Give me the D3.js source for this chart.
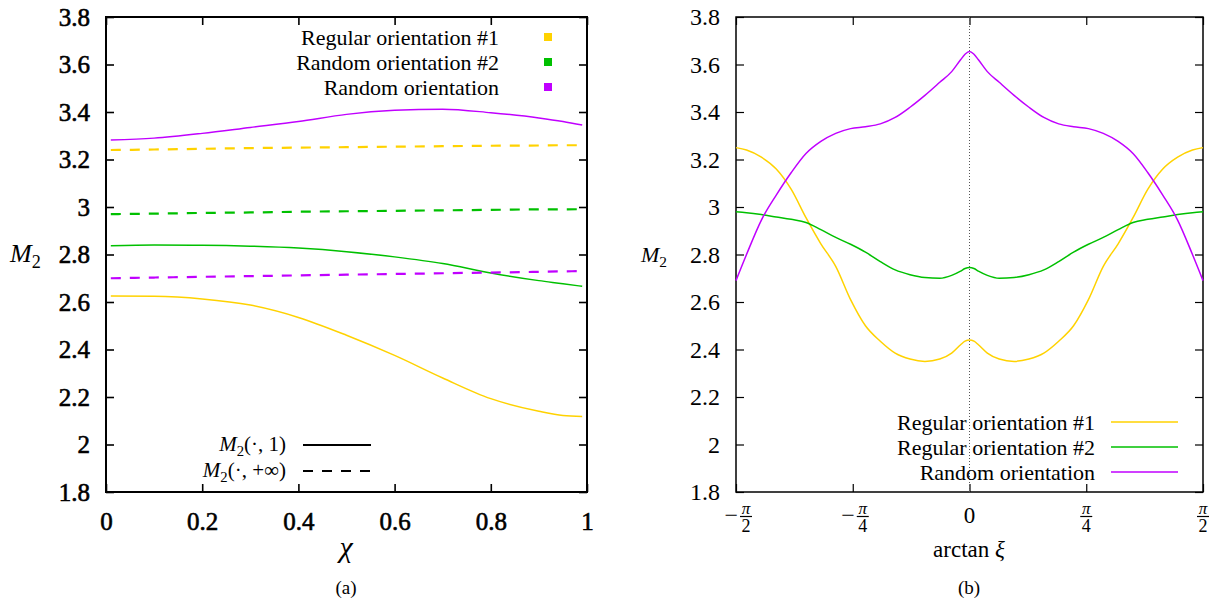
<!DOCTYPE html>
<html>
<head>
<meta charset="utf-8">
<script src="https://cdn.jsdelivr.net/npm/d3@7"></script>
<style>
  body { margin: 0; background: #fff; }
  svg text { font-family: "Times New Roman", Times, "Liberation Serif", "Noto Serif", "DejaVu Serif", serif !important; fill: #000; }
</style>
</head>
<body>
<svg width="1229" height="601"></svg>
<script>
// ---- data, panel (a): M2 vs chi
var chi = [0.01, 0.1, 0.2, 0.3, 0.4, 0.5, 0.6, 0.7, 0.8, 0.9, 0.95, 0.99];
var reg1One  = [2.625, 2.624, 2.613, 2.587, 2.535, 2.46, 2.375, 2.28, 2.193, 2.14, 2.122, 2.118];
var reg2One  = [2.837, 2.84, 2.839, 2.835, 2.827, 2.812, 2.79, 2.762, 2.722, 2.69, 2.677, 2.666];
var randOne  = [3.282, 3.29, 3.31, 3.335, 3.36, 3.39, 3.407, 3.412, 3.397, 3.375, 3.36, 3.345];
var reg1Inf  = [3.24, 3.242, 3.245, 3.248, 3.25, 3.252, 3.254, 3.256, 3.258, 3.259, 3.26, 3.26];
var reg2Inf  = [2.97, 2.972, 2.975, 2.977, 2.98, 2.982, 2.984, 2.986, 2.988, 2.99, 2.99, 2.991];
var randInf  = [2.70, 2.703, 2.706, 2.709, 2.712, 2.715, 2.718, 2.721, 2.724, 2.727, 2.729, 2.73];

// ---- data, panel (b): M2 vs arctan(xi)
var atanXi = [-1.571, -1.5, -1.4, -1.3, -1.2, -1.1, -1.0, -0.9, -0.8, -0.7, -0.6, -0.5, -0.4, -0.3, -0.2, -0.12, -0.06, -0.03, 0,
              0.03, 0.06, 0.12, 0.2, 0.3, 0.4, 0.5, 0.6, 0.7, 0.8, 0.9, 1.0, 1.1, 1.2, 1.3, 1.4, 1.5, 1.571];
var reg1B = [3.25, 3.24, 3.21, 3.16, 3.075, 2.955, 2.845, 2.75, 2.61, 2.50, 2.435, 2.385, 2.36, 2.35, 2.36, 2.385, 2.42, 2.435, 2.44,
             2.435, 2.42, 2.385, 2.36, 2.35, 2.36, 2.385, 2.435, 2.50, 2.61, 2.75, 2.845, 2.955, 3.075, 3.16, 3.21, 3.24, 3.25];
var reg2B = [2.98, 2.976, 2.968, 2.958, 2.948, 2.935, 2.905, 2.872, 2.843, 2.81, 2.77, 2.735, 2.715, 2.703, 2.70, 2.712, 2.73, 2.741, 2.745,
             2.741, 2.73, 2.712, 2.70, 2.703, 2.715, 2.735, 2.77, 2.81, 2.843, 2.872, 2.905, 2.935, 2.948, 2.958, 2.968, 2.976, 2.98];
var randB = [2.69, 2.80, 2.945, 3.05, 3.144, 3.225, 3.276, 3.31, 3.33, 3.338, 3.35, 3.377, 3.42, 3.47, 3.525, 3.57, 3.62, 3.643, 3.655,
             3.643, 3.62, 3.57, 3.525, 3.47, 3.42, 3.377, 3.35, 3.338, 3.33, 3.31, 3.276, 3.225, 3.144, 3.05, 2.945, 2.80, 2.69];

var yTicks = [1.8, 2, 2.2, 2.4, 2.6, 2.8, 3, 3.2, 3.4, 3.6, 3.8];
var chiTicks = [0, 0.2, 0.4, 0.6, 0.8, 1];
var piTicks = [-Math.PI / 2, -Math.PI / 4, 0, Math.PI / 4, Math.PI / 2];
var piTickParts = [["\u2212", "2"], ["\u2212", "4"], ["", ""], ["", "4"], ["", "2"]];

var yellow = "#ffd200", green = "#00c000", purple = "#c000ff";

var svg = d3.select("svg");

function subM(sel, size) {
    // italic M with subscript 2
    sel.append("tspan").attr("font-style", "italic").text("M");
    sel.append("tspan").attr("font-size", size * 0.7).attr("dy", size * 0.22).text("2");
}

// ================= panel (a)
var xa = d3.scaleLinear().domain([0, 1]).range([106, 587]);
var ya = d3.scaleLinear().domain([1.8, 3.8]).range([492, 17]);
var ga = svg.append("g");

ga.append("g").attr("transform", "translate(106,0)")
    .call(d3.axisLeft(ya).tickValues(yTicks).tickSize(-8).tickPadding(16).tickFormat(d3.format("")))
    .call(function (g) { g.select(".domain").remove(); });
ga.append("g").attr("transform", "translate(587,0)")
    .call(d3.axisRight(ya).tickValues(yTicks).tickSize(-8).tickFormat(""))
    .call(function (g) { g.select(".domain").remove(); });
ga.append("g").attr("transform", "translate(0,492)")
    .call(d3.axisBottom(xa).tickValues(chiTicks).tickSize(-8).tickPadding(20).tickFormat(d3.format("")))
    .call(function (g) { g.select(".domain").remove(); });
ga.append("g").attr("transform", "translate(0,17)")
    .call(d3.axisTop(xa).tickValues(chiTicks).tickSize(-8).tickFormat(""))
    .call(function (g) { g.select(".domain").remove(); });
ga.selectAll(".tick line").attr("stroke", "#000").attr("stroke-width", 1.6);
ga.selectAll(".tick text").attr("font-size", 25)
    .attr("stroke", "#000").attr("stroke-width", 0.6);
ga.append("rect").attr("x", 106).attr("y", 17).attr("width", 481).attr("height", 475)
    .attr("fill", "none").attr("stroke", "#000").attr("stroke-width", 2);

var lineA = function (vals) {
    return d3.line().curve(d3.curveMonotoneX)
        .x(function (d, i) { return xa(chi[i]); })
        .y(function (d) { return ya(d); })(vals);
};
var seriesA = [
    { v: reg1One, c: yellow, dash: null }, { v: reg2One, c: green, dash: null }, { v: randOne, c: purple, dash: null },
    { v: reg1Inf, c: yellow, dash: "10,9" }, { v: reg2Inf, c: green, dash: "10,9" }, { v: randInf, c: purple, dash: "10,9" }
];
ga.selectAll("path.curve").data(seriesA).enter().append("path")
    .attr("class", "curve")
    .attr("d", function (d) { return lineA(d.v); })
    .attr("fill", "none")
    .attr("stroke", function (d) { return d.c; })
    .attr("stroke-width", function (d) { return d.dash ? 2.2 : 1.5; })
    .attr("stroke-dasharray", function (d) { return d.dash; });

// legend (a), colours
var legA = ["Regular orientation #1", "Random orientation #2", "Random orientation"];
var legColors = [yellow, green, purple];
legA.forEach(function (t, i) {
    var y = 37 + i * 25;
    ga.append("text").attr("x", 499).attr("y", y).attr("dy", "0.35em")
        .attr("text-anchor", "end").attr("font-size", 22).text(t);
    ga.append("rect").attr("x", 544).attr("y", y - 4).attr("width", 8).attr("height", 8)
        .attr("fill", legColors[i]);
});
// legend (a), styles
var styleRows = [{ y: 445, dash: null, arg: "1" }, { y: 471, dash: "10,9", arg: "+\u221E" }];
styleRows.forEach(function (r) {
    var t = ga.append("text").attr("x", 286).attr("y", r.y).attr("dy", "0.3em")
        .attr("text-anchor", "end").attr("font-size", 21);
    subM(t, 21);
    t.append("tspan").attr("dy", -21 * 0.22).text("(\u00B7, " + r.arg + ")");
    ga.append("line").attr("x1", 303).attr("x2", 371).attr("y1", r.y).attr("y2", r.y)
        .attr("stroke", "#000").attr("stroke-width", 2).attr("stroke-dasharray", r.dash);
});

var ylabA = ga.append("text").attr("x", 10).attr("y", 262).attr("font-size", 26);
subM(ylabA, 26);
ga.append("text").attr("x", 346).attr("y", 557).attr("text-anchor", "middle")
    .attr("font-size", 30).attr("font-style", "italic").text("\u03C7");
ga.append("text").attr("x", 346).attr("y", 594).attr("text-anchor", "middle")
    .attr("font-size", 19).text("(a)");

// ================= panel (b)
var xb = d3.scaleLinear().domain([-Math.PI / 2, Math.PI / 2]).range([736, 1203]);
var yb = d3.scaleLinear().domain([1.8, 3.8]).range([492, 17]);
var gb = svg.append("g");

gb.append("g").attr("transform", "translate(736,0)")
    .call(d3.axisLeft(yb).tickValues(yTicks).tickSize(-8).tickPadding(16).tickFormat(d3.format("")))
    .call(function (g) { g.select(".domain").remove(); });
gb.append("g").attr("transform", "translate(1203,0)")
    .call(d3.axisRight(yb).tickValues(yTicks).tickSize(-8).tickFormat(""))
    .call(function (g) { g.select(".domain").remove(); });
gb.append("g").attr("transform", "translate(0,492)")
    .call(d3.axisBottom(xb).tickValues(piTicks).tickSize(-8).tickFormat(""))
    .call(function (g) { g.select(".domain").remove(); });
gb.append("g").attr("transform", "translate(0,17)")
    .call(d3.axisTop(xb).tickValues(piTicks).tickSize(-8).tickFormat(""))
    .call(function (g) { g.select(".domain").remove(); });
gb.selectAll(".tick line").attr("stroke", "#000").attr("stroke-width", 1.2);
gb.selectAll(".tick text").attr("font-size", 24);
gb.append("rect").attr("x", 736).attr("y", 17).attr("width", 467).attr("height", 475)
    .attr("fill", "none").attr("stroke", "#000").attr("stroke-width", 1.5);

// fraction tick labels
piTicks.forEach(function (v, i) {
    var cx = xb(v), p = piTickParts[i];
    if (p[1] === "") {
        gb.append("text").attr("x", cx).attr("y", 523).attr("text-anchor", "middle")
            .attr("font-size", 23).text("0");
        return;
    }
    var fx = p[0] ? cx + 10 : cx;
    gb.append("text").attr("x", fx).attr("y", 514).attr("text-anchor", "middle")
        .attr("font-size", 17).attr("font-style", "italic").text("\u03C0");
    gb.append("line").attr("x1", fx - 6).attr("x2", fx + 6).attr("y1", 516.5).attr("y2", 516.5)
        .attr("stroke", "#000").attr("stroke-width", 1.2);
    gb.append("text").attr("x", fx).attr("y", 532).attr("text-anchor", "middle")
        .attr("font-size", 18).text(p[1]);
    if (p[0]) {
        gb.append("text").attr("x", cx + 2).attr("y", 523).attr("text-anchor", "end")
            .attr("font-size", 24).text(p[0]);
    }
});

// zero line
gb.append("line").attr("x1", xb(0)).attr("x2", xb(0)).attr("y1", 17).attr("y2", 492)
    .attr("stroke", "#555").attr("stroke-width", 1).attr("stroke-dasharray", "1,2");

var lineB = d3.line().curve(d3.curveMonotoneX)
    .x(function (d, i) { return xb(atanXi[i]); })
    .y(function (d) { return yb(d); });
var seriesB = [{ v: reg1B, c: yellow }, { v: reg2B, c: green }, { v: randB, c: purple }];
gb.selectAll("path.curve").data(seriesB).enter().append("path")
    .attr("class", "curve")
    .attr("d", function (d) { return lineB(d.v); })
    .attr("fill", "none")
    .attr("stroke", function (d) { return d.c; })
    .attr("stroke-width", 1.5);

var legB = ["Regular orientation #1", "Regular orientation #2", "Random orientation"];
legB.forEach(function (t, i) {
    var y = 422 + i * 25;
    gb.append("text").attr("x", 1095).attr("y", y).attr("dy", "0.35em")
        .attr("text-anchor", "end").attr("font-size", 22).text(t);
    gb.append("line").attr("x1", 1111).attr("x2", 1178).attr("y1", y).attr("y2", y)
        .attr("stroke", legColors[i]).attr("stroke-width", 1.5);
});

var ylabB = gb.append("text").attr("x", 641).attr("y", 262).attr("font-size", 22);
subM(ylabB, 22);
var xlabB = gb.append("text").attr("x", 969).attr("y", 557).attr("text-anchor", "middle").attr("font-size", 23);
xlabB.append("tspan").text("arctan ");
xlabB.append("tspan").attr("font-style", "italic").text("\u03BE");
gb.append("text").attr("x", 969).attr("y", 594).attr("text-anchor", "middle")
    .attr("font-size", 19).text("(b)");
</script>
</body>
</html>
